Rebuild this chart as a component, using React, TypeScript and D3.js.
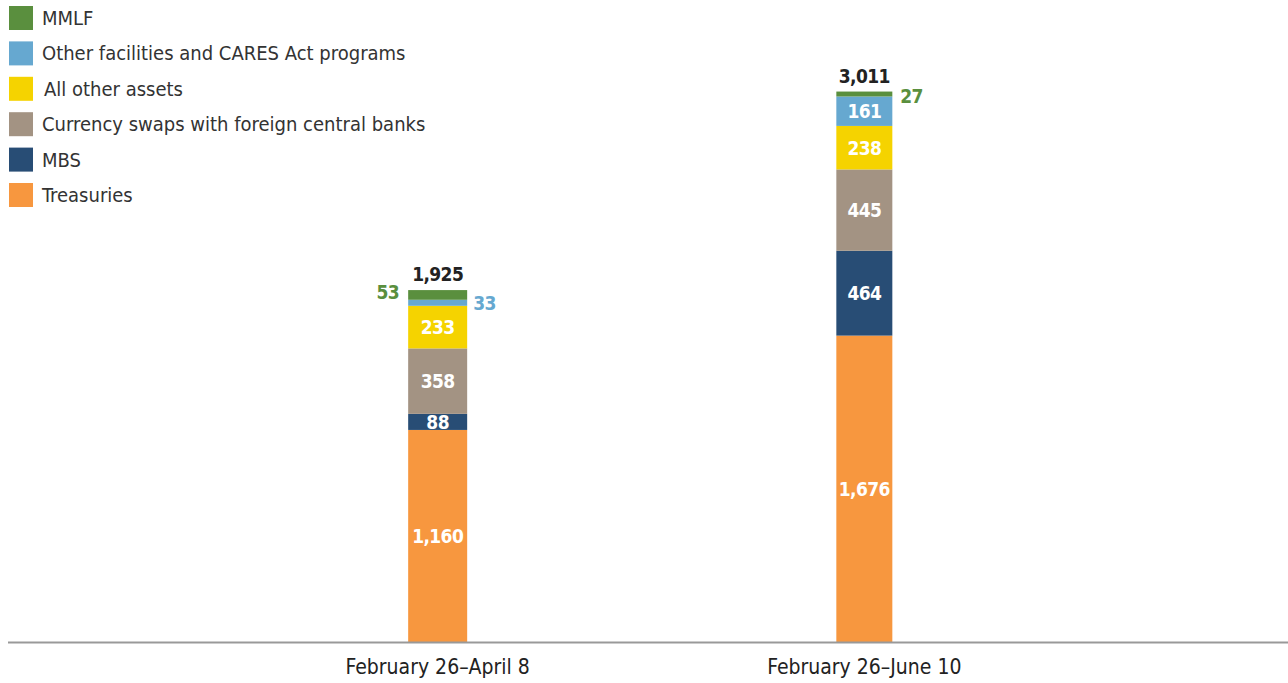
import React from "react";
import * as d3 from "d3";

const categories = ["February 26–April 8", "February 26–June 10"];
const seriesNames = [
  "Treasuries",
  "MBS",
  "Currency swaps with foreign central banks",
  "All other assets",
  "Other facilities and CARES Act programs",
  "MMLF",
];
const treasuries = [1160, 1676];
const mbs = [88, 464];
const swaps = [358, 445];
const otherAssets = [233, 238];
const otherFacilities = [33, 161];
const mmlf = [53, 27];
const totals = [1925, 3011];
const colors = ["#f7973f", "#284d75", "#a39383", "#f5d300", "#66a8d0", "#5a8f3e"];

const W = 1288;
const H = 683;
const FONT = "'Liberation Sans Narrow', 'DejaVu Sans Condensed', Roboto, sans-serif";

export default function App() {
  const seriesValues = [treasuries, mbs, swaps, otherAssets, otherFacilities, mmlf];
  const rows = categories.map((c, i) => {
    const r: any = { cat: c };
    seriesNames.forEach((s, j) => (r[s] = seriesValues[j][i]));
    return r;
  });
  const stacked = d3.stack().keys(seriesNames)(rows);

  const x = d3.scalePoint<string>().domain(["_a", ...categories, "_b"]).range([11, 1291]);
  const y = d3.scaleLinear().domain([0, 3200]).range([642, 57]);
  const barW = [59, 56];

  const legendOrder = [...seriesNames].reverse();
  const fmt = d3.format(",");
  const valStyle = { letterSpacing: "-0.6px" } as React.CSSProperties;

  return (
    <svg width={W} height={H} style={{ position: "absolute", left: 0, top: 0, fontFamily: FONT }}>
      {legendOrder.map((name, i) => {
        const ci = seriesNames.indexOf(name);
        const yy = 6 + i * 35.4;
        return (
          <g key={name}>
            <rect x={9} y={yy} width={24} height={24} fill={colors[ci]} />
            <text x={name === "All other assets" ? 44 : 42} y={yy + 19} fontSize={20} fill="#333">
              {name}
            </text>
          </g>
        );
      })}
      {stacked.map((layer, j) =>
        layer.map((d, i) => {
          const cx = x(categories[i])!;
          const w = barW[i];
          const y0 = y(d[0]);
          const y1 = y(d[1]);
          return (
            <rect key={`${j}-${i}`} x={cx - w / 2} y={y1} width={w} height={y0 - y1} fill={colors[j]} />
          );
        })
      )}
      {stacked.map((layer, j) =>
        layer.map((d, i) => {
          const v = seriesValues[j][i];
          const cx = x(categories[i])!;
          const w = barW[i];
          const y0 = y(d[0]);
          const y1 = y(d[1]);
          const h = y0 - y1;
          if (h >= 15) {
            return (
              <text key={`t${j}-${i}`} x={cx} y={(y0 + y1) / 2 + 7} textAnchor="middle" fontSize={19} fontWeight="bold" fill="#fff" style={valStyle}>
                {fmt(v)}
              </text>
            );
          }
          const name = seriesNames[j];
          if (i === 0 && name === "MMLF") {
            return (
              <text key={`t${j}-${i}`} x={cx - w / 2 - 9} y={(y0 + y1) / 2 + 4} textAnchor="end" fontSize={19} fontWeight="bold" fill={colors[j]} style={valStyle}>
                {fmt(v)}
              </text>
            );
          }
          if (i === 0) {
            return (
              <text key={`t${j}-${i}`} x={cx + w / 2 + 6} y={(y0 + y1) / 2 + 7} textAnchor="start" fontSize={19} fontWeight="bold" fill={colors[j]} style={valStyle}>
                {fmt(v)}
              </text>
            );
          }
          return (
            <text key={`t${j}-${i}`} x={cx + w / 2 + 8} y={(y0 + y1) / 2 + 9} textAnchor="start" fontSize={19} fontWeight="bold" fill={colors[j]} style={valStyle}>
              {fmt(v)}
            </text>
          );
        })
      )}
      {totals.map((t, i) => (
        <text key={`tot${i}`} x={x(categories[i])!} y={y(t) - 9} textAnchor="middle" fontSize={19} fontWeight="bold" fill="#222" style={valStyle}>
          {fmt(t)}
        </text>
      ))}
      <line x1={8} x2={1288} y1={642.5} y2={642.5} stroke="#999" strokeWidth={2} />
      {categories.map((c) => (
        <text key={c} x={x(c)!} y={674} textAnchor="middle" fontSize={21} fill="#222">
          {c}
        </text>
      ))}
    </svg>
  );
}
